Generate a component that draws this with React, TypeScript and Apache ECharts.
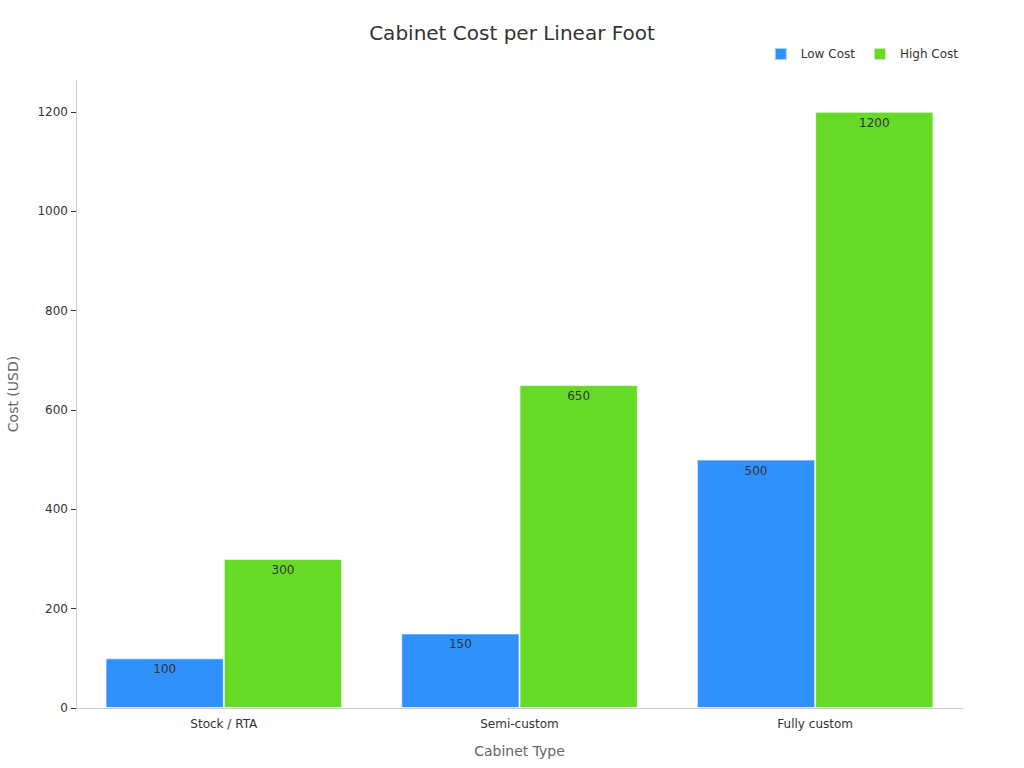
import React, { useEffect, useRef } from "react";
import * as echarts from "echarts";

const categories = ["Stock / RTA", "Semi-custom", "Fully custom"];
const lowCost = [100, 150, 500];
const highCost = [300, 650, 1200];
const yTicks = [0, 200, 400, 600, 800, 1000, 1200];

export default function App() {
  const ref = useRef<HTMLDivElement>(null);
  useEffect(() => {
    if (!ref.current) return;
    const chart = echarts.init(ref.current, undefined, { renderer: "svg" });
    const font = "DejaVu Sans";
    chart.setOption({
      animation: false,
      textStyle: { fontFamily: font },
      title: {
        text: "Cabinet Cost per Linear Foot",
        left: "center",
        top: 18,
        textStyle: { fontSize: 20, fontWeight: "normal", color: "#333", fontFamily: font },
      },
      legend: {
        right: 61,
        top: 42,
        itemWidth: 12,
        itemHeight: 12,
        itemGap: 18,
        icon: "rect",
        textStyle: { fontSize: 12, color: "#333", fontFamily: font, padding: [0, 0, 0, 9] },
        data: ["Low Cost", "High Cost"],
      },
      grid: { left: 76, right: 61, top: 80, bottom: 60, outerBoundsMode: "none", containLabel: false },
      xAxis: {
        type: "category",
        data: categories,
        name: "Cabinet Type",
        nameLocation: "middle",
        nameGap: 36,
        nameTextStyle: { fontSize: 14, color: "#666", fontFamily: font },
        axisLine: { lineStyle: { color: "#ccc" } },
        axisTick: { alignWithLabel: true, lineStyle: { color: "#999" } },
        axisLabel: { fontSize: 12, color: "#333", margin: 10, fontFamily: font },
      },
      yAxis: {
        type: "value",
        min: 0,
        max: 1264,
        interval: 200,
        name: "Cost (USD)",
        nameLocation: "middle",
        nameGap: 56,
        nameTextStyle: { fontSize: 14, color: "#666", fontFamily: font },
        axisLine: { show: true, lineStyle: { color: "#ccc" } },
        axisTick: { show: true, customValues: yTicks, lineStyle: { color: "#333" } },
        axisLabel: {
          fontSize: 12,
          color: "#333",
          customValues: yTicks,
          fontFamily: font,
          formatter: (v: number) => String(v),
        },
        splitLine: { show: false },
      },
      series: [
        {
          name: "Low Cost",
          type: "bar",
          data: lowCost,
          barGap: "0%",
          barCategoryGap: "20%",
          itemStyle: { color: "#3091fa", borderColor: "rgba(255,255,255,0.6)", borderWidth: 1 },
          label: { show: true, position: "insideTop", color: "#333", fontSize: 12, fontFamily: font },
        },
        {
          name: "High Cost",
          type: "bar",
          data: highCost,
          barGap: "0%",
          barCategoryGap: "20%",
          itemStyle: { color: "#66da27", borderColor: "rgba(255,255,255,0.6)", borderWidth: 1 },
          label: { show: true, position: "insideTop", color: "#333", fontSize: 12, fontFamily: font },
        },
      ],
    });
    return () => chart.dispose();
  }, []);
  return (
    <div
      ref={ref}
      style={{ position: "fixed", left: 0, top: 0, width: 1024, height: 768, background: "#fff" }}
    />
  );
}
